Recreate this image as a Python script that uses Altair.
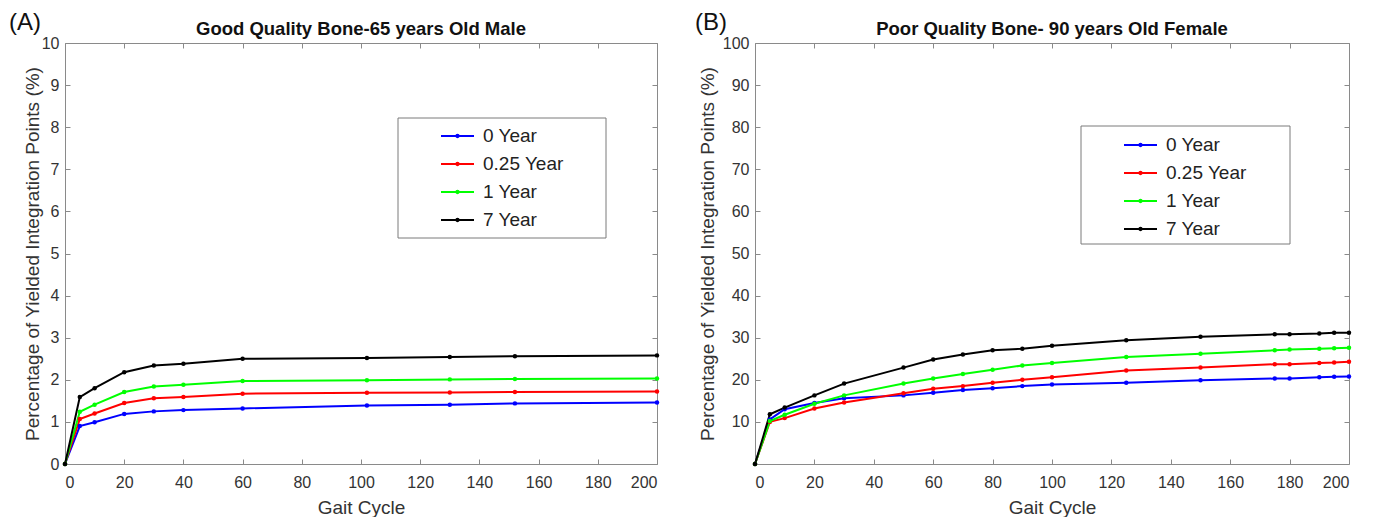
import altair as alt
import pandas as pd

series_names = ["0 Year", "0.25 Year", "1 Year", "7 Year"]
series_colors = ["#0000ff", "#ff0000", "#00ff00", "#000000"]

# Panel A: Good quality bone
a_gait = [0, 5, 10, 20, 30, 40, 60, 102, 130, 152, 200]
a_0 = [0, 0.90, 0.99, 1.19, 1.25, 1.28, 1.32, 1.39, 1.41, 1.44, 1.46]
a_025 = [0, 1.07, 1.20, 1.45, 1.56, 1.59, 1.67, 1.69, 1.70, 1.71, 1.72]
a_1 = [0, 1.24, 1.41, 1.71, 1.84, 1.88, 1.97, 1.99, 2.01, 2.02, 2.03]
a_7 = [0, 1.59, 1.80, 2.18, 2.34, 2.38, 2.50, 2.52, 2.54, 2.56, 2.58]

# Panel B: Poor quality bone
b_gait = [0, 5, 10, 20, 30, 50, 60, 70, 80, 90, 100, 125, 150, 175, 180, 190, 195, 200]
b_0 = [0, 10.6, 13.0, 14.5, 15.6, 16.3, 16.9, 17.6, 18.0, 18.5, 18.9, 19.3, 19.9, 20.3, 20.3, 20.6, 20.7, 20.8]
b_025 = [0, 10.0, 10.9, 13.2, 14.6, 16.8, 17.9, 18.5, 19.3, 20.0, 20.6, 22.2, 22.9, 23.7, 23.7, 24.0, 24.1, 24.3]
b_1 = [0, 10.2, 11.7, 14.3, 16.3, 19.1, 20.3, 21.4, 22.4, 23.4, 24.0, 25.4, 26.2, 27.0, 27.2, 27.4, 27.5, 27.6]
b_7 = [0, 11.8, 13.4, 16.3, 19.1, 22.9, 24.8, 26.0, 27.0, 27.4, 28.1, 29.4, 30.2, 30.8, 30.8, 31.0, 31.2, 31.2]

x_ticks = list(range(0, 201, 20))
a_yticks = list(range(0, 11, 1))
b_yticks = list(range(10, 101, 10))

title_a = "Good Quality Bone-65 years Old Male"
title_b = "Poor Quality Bone- 90 years Old Female"
y_title = "Percentage of Yielded Integration Points (%)"
x_title = "Gait Cycle"

FONT = "Liberation Sans"
AXIS_GRAY = "#8a8a8a"
TEXT_GRAY = "#333333"
LEG_PATH = "M-1,0H1M0.07,0A0.07,0.07,0,1,1,-0.07,0A0.07,0.07,0,1,1,0.07,0"


def make_df(gait, cols):
    rows = []
    for name, vals in zip(series_names, cols):
        for g, v in zip(gait, vals):
            rows.append({"gait": g, "value": v, "series": name})
    return pd.DataFrame(rows)


def panel(df, w, h, ymax, yticks, title, tag, tag_x, ytitle_x, leg_x, leg_y, box):
    legend = alt.Legend(
        orient="none", legendX=leg_x, legendY=leg_y, title=None, padding=0,
        symbolType=LEG_PATH, symbolSize=1089, symbolStrokeWidth=2,
        labelFontSize=19, labelFont=FONT, labelColor="#222222", labelOffset=8,
        rowPadding=-2.5, symbolOffset=0,
    )
    color = alt.Color("series:N", scale=alt.Scale(domain=series_names, range=series_colors),
                      legend=legend, sort=series_names)
    xs = alt.Scale(domain=[0, 200], nice=False)
    ys = alt.Scale(domain=[0, ymax], nice=False)

    base = alt.Chart(df)
    lines = base.mark_line(strokeWidth=2).encode(
        x=alt.X("gait:Q", scale=xs, axis=alt.Axis(
            orient="bottom", values=x_ticks, offset=-5, domain=False, tickSize=5,
            labelPadding=10, title=x_title, titleX=w / 2, titleY=54.5,
            titleBaseline="alphabetic", grid=False)),
        y=alt.Y("value:Q", scale=ys, axis=alt.Axis(
            orient="left", values=yticks, offset=-5, domain=False, tickSize=5,
            labelPadding=6, title=y_title, titleX=ytitle_x, titleY=h / 2,
            titleBaseline="middle", titleAngle=270, grid=False)),
        color=color,
    )
    pts = base.mark_circle(size=20, opacity=1).encode(
        x=alt.X("gait:Q", scale=xs, axis=None),
        y=alt.Y("value:Q", scale=ys, axis=None),
        color=color,
    )
    mirror = base.mark_point(opacity=0).encode(
        x=alt.X("gait:Q", scale=xs, axis=alt.Axis(
            orient="top", values=x_ticks, offset=-5, domain=False, tickSize=5,
            labels=False, title=None, grid=False)),
        y=alt.Y("value:Q", scale=ys, axis=alt.Axis(
            orient="right", values=yticks, offset=-5, domain=False, tickSize=5,
            labels=False, title=None, grid=False)),
    )
    one = pd.DataFrame({"t": [title], "g": [tag]})
    ttl = alt.Chart(one).mark_text(font=FONT, fontSize=18.5, fontWeight="bold", color="#111111",
                                   align="center", baseline="alphabetic").encode(
        x=alt.value(w / 2), y=alt.value(-8.4), text="t:N")
    tg = alt.Chart(one).mark_text(font=FONT, fontSize=24, color="#111111",
                                  align="left", baseline="alphabetic").encode(
        x=alt.value(tag_x), y=alt.value(-13.4), text="g:N")
    bx = alt.Chart(one).mark_rect(fill="white", stroke="#7a7a7a", strokeWidth=1).encode(
        x=alt.value(box[0]), x2=alt.value(box[1]), y=alt.value(box[2]), y2=alt.value(box[3]))

    return alt.layer(lines, pts, mirror, bx, ttl, tg).resolve_axis(
        x="independent", y="independent").properties(width=w, height=h)


df_a = make_df(a_gait, [a_0, a_025, a_1, a_7])
df_b = make_df(b_gait, [b_0, b_025, b_1, b_7])

pa = panel(df_a, 592, 421, 10, a_yticks, title_a, "(A)", -56, -38, 375, 75.5, (333, 541, 75, 195))
pb = panel(df_b, 594, 421, 100, b_yticks, title_b, "(B)", -60, -53, 368, 84.5, (326, 535, 83, 201))

chart = alt.hconcat(pa, pb, spacing=32).resolve_scale(color="independent").resolve_legend(
    color="independent"
).properties(
    padding={"left": 0, "top": 2, "right": 0, "bottom": 0}
).configure_view(stroke=AXIS_GRAY, strokeWidth=1).configure_axis(
    tickColor=AXIS_GRAY, labelColor=TEXT_GRAY, titleColor=TEXT_GRAY,
    labelFont=FONT, titleFont=FONT, labelFontSize=16, titleFontSize=19,
    titleFontWeight="normal",
)

chart.save("out.html", embed_options={"renderer": "svg", "actions": False})
